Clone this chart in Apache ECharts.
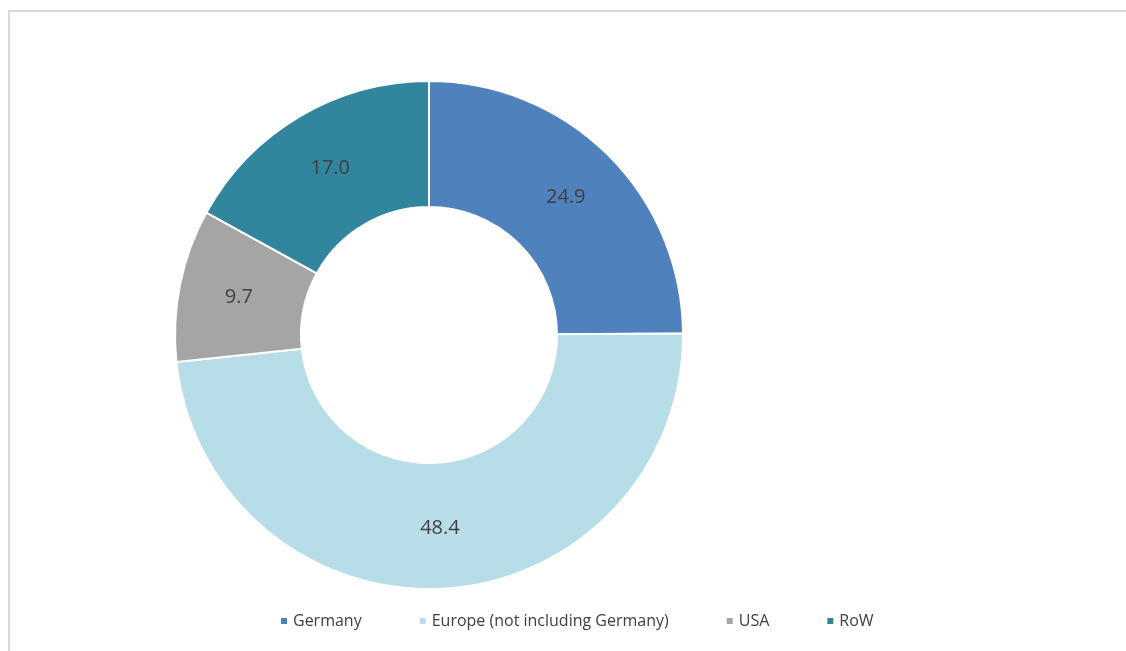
<!DOCTYPE html>
<html>
<head>
<meta charset="utf-8">
<script src="https://cdn.jsdelivr.net/npm/echarts@6/dist/echarts.min.js"></script>
<style>
  html, body { margin: 0; padding: 0; background: #fff; width: 1126px; height: 651px; overflow: hidden; }
  #frame { position: absolute; left: 8px; top: 10px; width: 1130px; height: 660px;
           border-top: 2px solid #d9d9d9; border-left: 2px solid #d9d9d9; }
  #chart { position: absolute; left: 0; top: 0; width: 1126px; height: 651px; }
</style>
</head>
<body>
<div id="frame"></div>
<div id="chart"></div>
<script>
// Share by region (%)
const regions = ['Germany', 'Europe (not including Germany)', 'USA', 'RoW'];
const shares = [24.9, 48.4, 9.7, 17.0];
const colors = ['#4F81BD', '#B7DEE8', '#A5A5A5', '#31859C'];

const chart = echarts.init(document.getElementById('chart'), null, { renderer: 'canvas' });

chart.setOption({
  animation: false,
  color: colors,
  textStyle: { fontFamily: 'Open Sans, Lato, sans-serif' },
  legend: {
    data: regions,
    left: 274,
    top: 608,
    icon: 'rect',
    itemWidth: 8,
    itemHeight: 8,
    itemGap: 56,
    textStyle: { fontSize: 16, color: '#404040', fontFamily: 'Open Sans, sans-serif' }
  },
  series: [{
    type: 'pie',
    center: [429, 335],
    radius: [128, 254],
    startAngle: 90,
    clockwise: true,
    avoidLabelOverlap: false,
    itemStyle: { borderColor: '#fff', borderWidth: 2 },
    label: {
      show: true,
      position: 'inside',
      formatter: p => p.value.toFixed(1),
      fontSize: 20,
      color: '#404040',
      fontFamily: 'Open Sans, sans-serif'
    },
    labelLine: { show: false },
    emphasis: { disabled: true },
    data: regions.map((name, i) => ({ name, value: shares[i] }))
  }]
});
</script>
</body>
</html>
